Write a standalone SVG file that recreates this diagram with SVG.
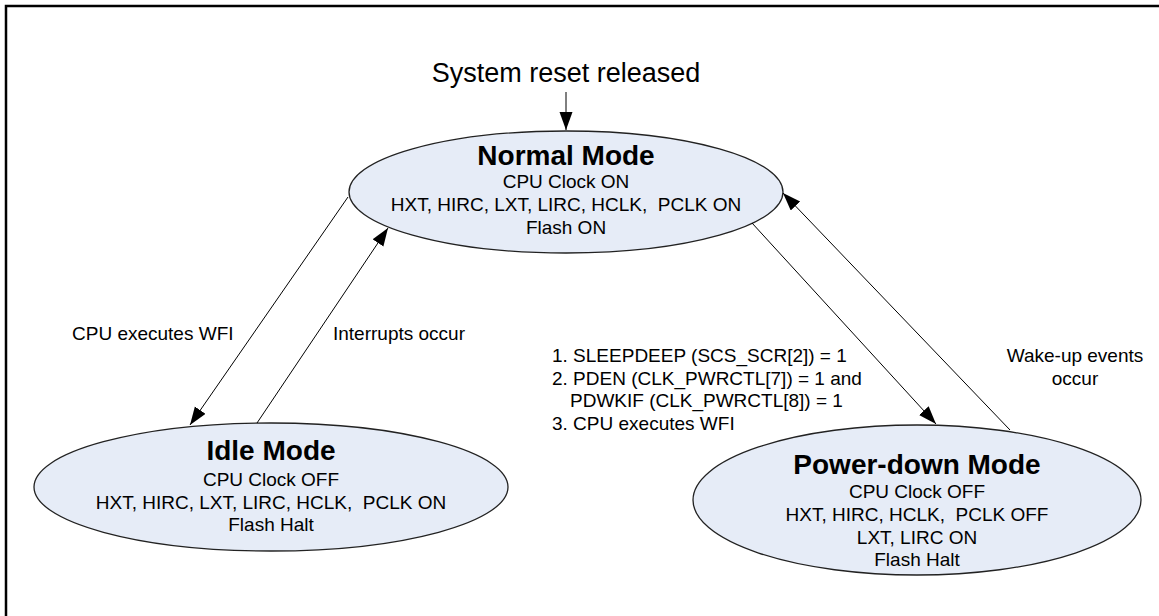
<svg xmlns="http://www.w3.org/2000/svg" width="1159" height="616" viewBox="0 0 1159 616">
<defs>
<marker id="ah" markerUnits="userSpaceOnUse" markerWidth="19" markerHeight="14" refX="18" refY="6.5" orient="auto">
<path d="M0,0 L18,6.5 L0,13 z" fill="#000"/>
</marker>
<style>
text{font-family:"Liberation Sans",Arial,sans-serif;fill:#000;white-space:pre}
.t{font-size:28px;font-weight:bold;text-anchor:middle}
.b{font-size:19px;text-anchor:middle}
.l{font-size:19px}
.s{fill:#E6ECF7;stroke:#222;stroke-width:1.3}
.c{fill:none;stroke:#000;stroke-width:1;marker-end:url(#ah)}
</style>
</defs>
<rect width="1159" height="616" fill="#fff"/>
<path d="M6,616 V6 H1159" fill="none" stroke="#000" stroke-width="2.5"/>
<text x="566" y="82" style="font-size:27px;text-anchor:middle">System reset released</text>
<g id="normal">
<ellipse class="s" cx="566" cy="192" rx="217" ry="61"/>
<text class="t" x="566" y="165">Normal Mode</text>
<text class="b" x="566" y="188">CPU Clock ON</text>
<text class="b" x="566" y="211" xml:space="preserve">HXT, HIRC, LXT, LIRC, HCLK,  PCLK ON</text>
<text class="b" x="566" y="234">Flash ON</text>
</g>
<g id="idle">
<ellipse class="s" cx="271" cy="487" rx="237" ry="64"/>
<text class="t" x="271" y="460">Idle Mode</text>
<text class="b" x="271" y="486">CPU Clock OFF</text>
<text class="b" x="271" y="509" xml:space="preserve">HXT, HIRC, LXT, LIRC, HCLK,  PCLK ON</text>
<text class="b" x="271" y="531">Flash Halt</text>
</g>
<g id="powerdown">
<ellipse class="s" cx="917" cy="500" rx="224" ry="75"/>
<text class="t" x="917" y="474">Power-down Mode</text>
<text class="b" x="917" y="498">CPU Clock OFF</text>
<text class="b" x="917" y="521" xml:space="preserve">HXT, HIRC, HCLK,  PCLK OFF</text>
<text class="b" x="917" y="544">LXT, LIRC ON</text>
<text class="b" x="917" y="566">Flash Halt</text>
</g>
<g id="connectors">
<line class="c" x1="566" y1="92" x2="566" y2="130"/>
<line class="c" x1="348" y1="197" x2="190" y2="425"/>
<line class="c" x1="257" y1="423" x2="388" y2="228"/>
<line class="c" x1="752" y1="223" x2="936" y2="424"/>
<line class="c" x1="1010" y1="430" x2="783" y2="193"/>
</g>
<g id="labels">
<text class="l" x="72" y="340">CPU executes WFI</text>
<text class="l" x="333" y="340">Interrupts occur</text>
<text class="l" x="552" y="362">1. SLEEPDEEP (SCS_SCR[2]) = 1</text>
<text class="l" x="552" y="385">2. PDEN (CLK_PWRCTL[7]) = 1 and</text>
<text class="l" x="570" y="407">PDWKIF (CLK_PWRCTL[8]) = 1</text>
<text class="l" x="552" y="430">3. CPU executes WFI</text>
<text class="l" x="1075" y="362" text-anchor="middle">Wake-up events</text>
<text class="l" x="1075" y="385" text-anchor="middle">occur</text>
</g>
</svg>
